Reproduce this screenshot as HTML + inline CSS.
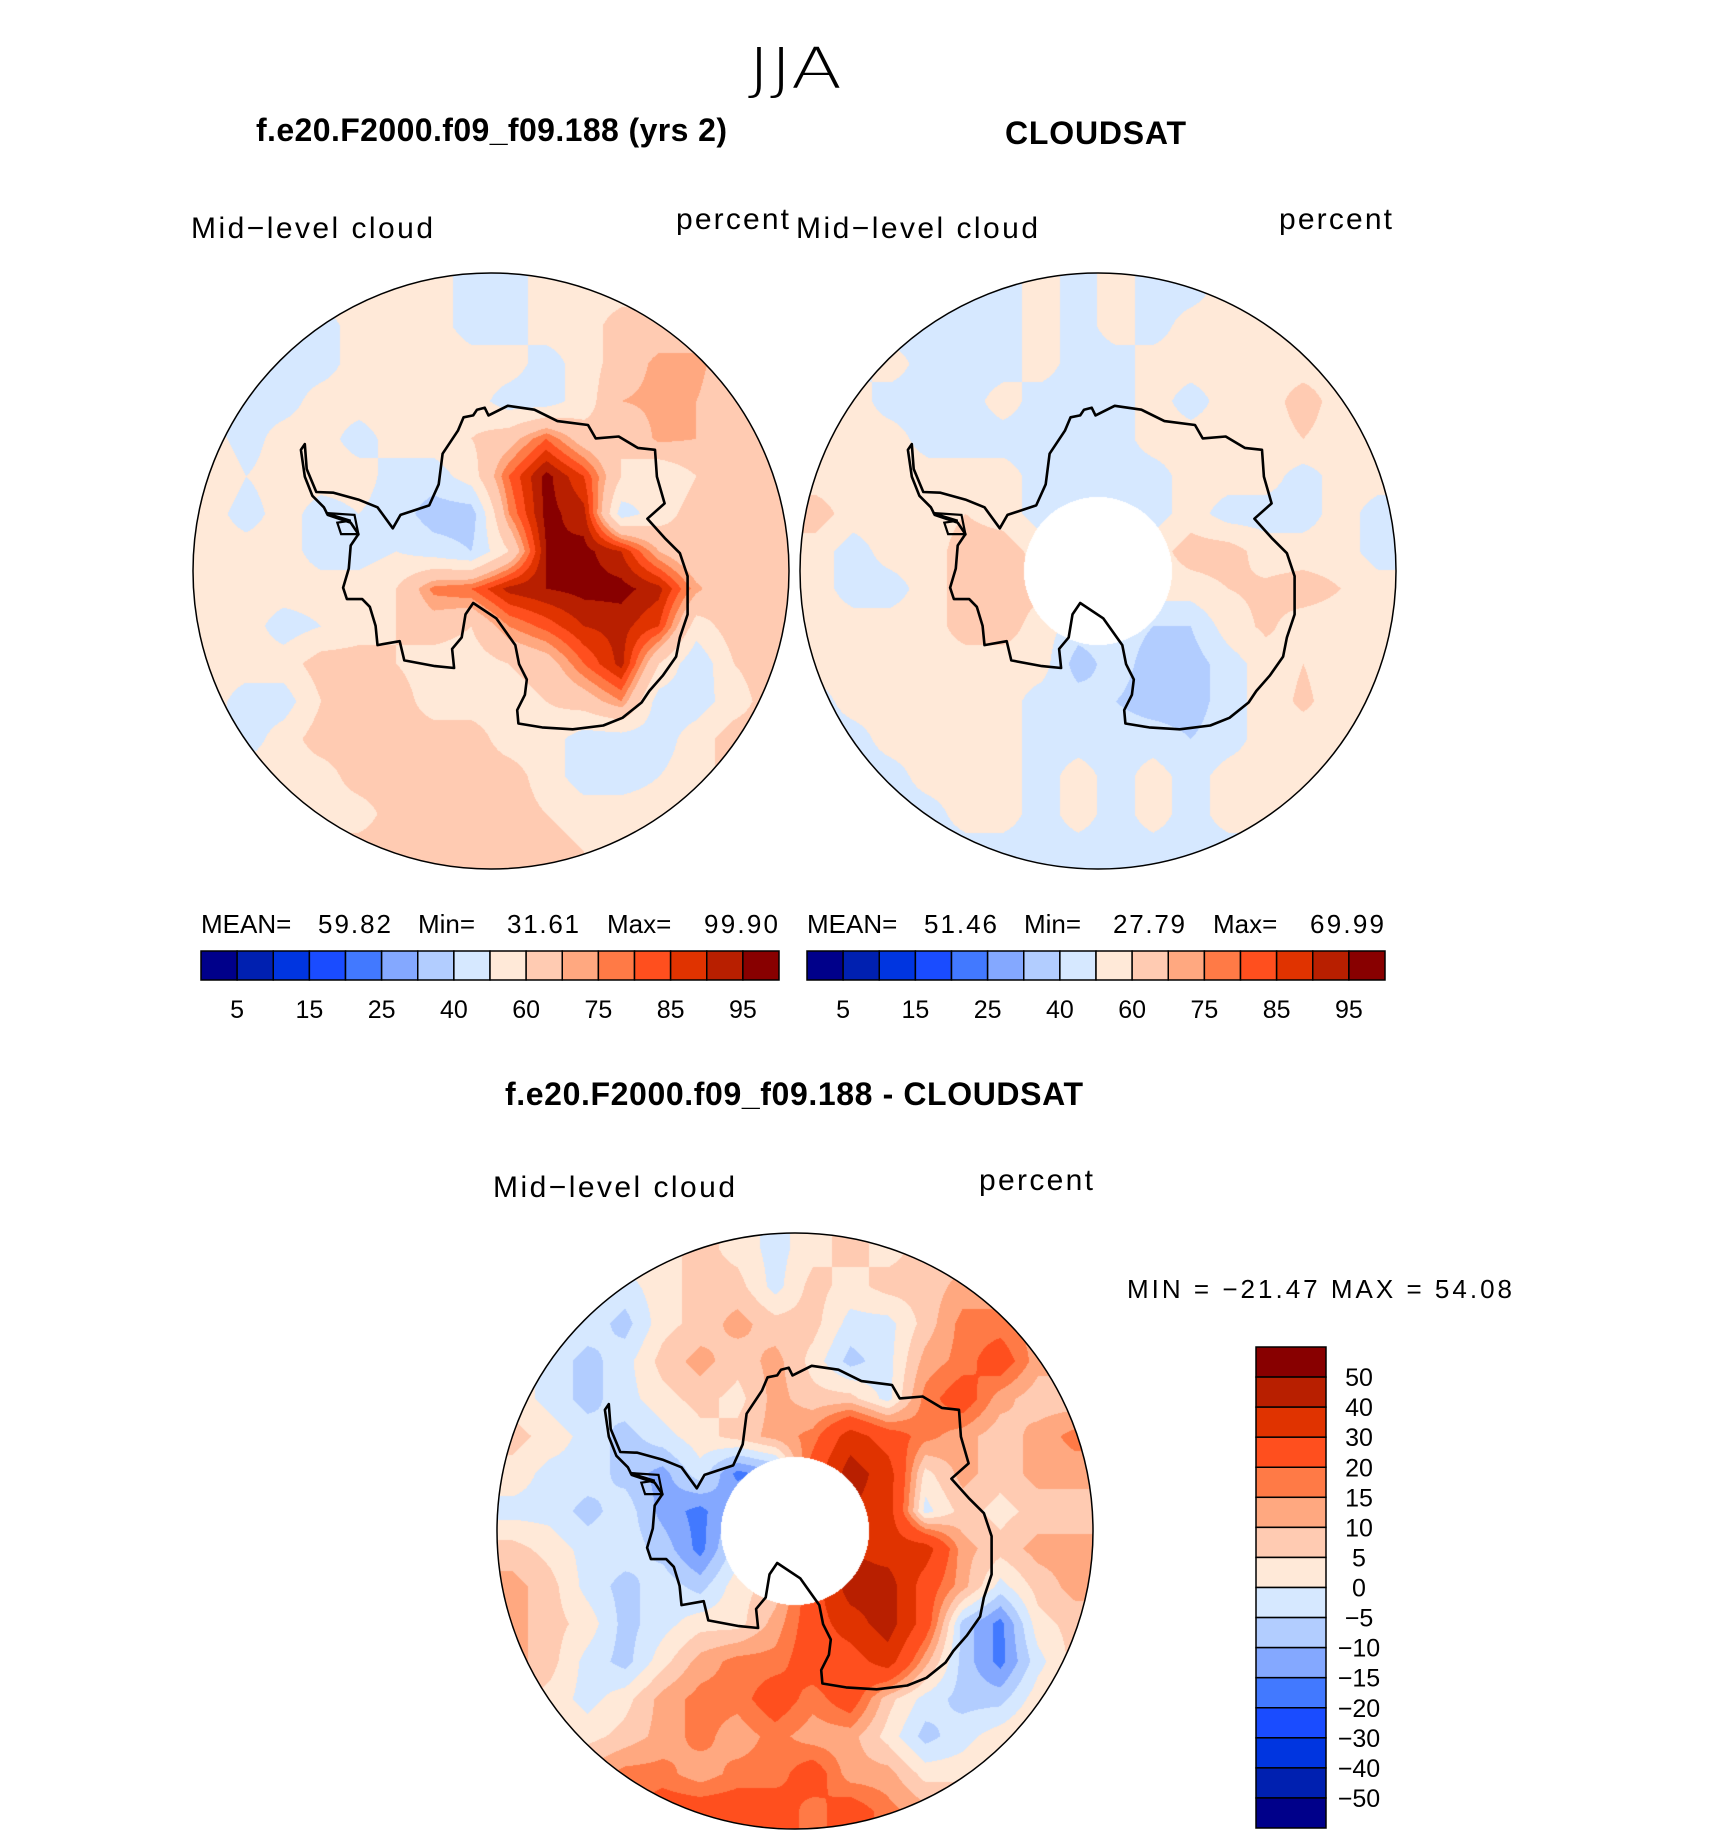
<!DOCTYPE html>
<html><head><meta charset="utf-8">
<style>
html,body{margin:0;padding:0;background:#fff;}
#wrap{position:relative;width:1710px;height:1839px;overflow:hidden;}
canvas,svg{position:absolute;left:0;top:0;}
text{font-family:"Liberation Sans",sans-serif;fill:#000;}
</style></head>
<body>
<div id="wrap">
<canvas id="cv" width="1710" height="1839"></canvas>
<svg id="sv" width="1710" height="1839">
<text x="748" y="88" font-size="56" textLength="94" lengthAdjust="spacingAndGlyphs" style="font-family:'DejaVu Sans','Liberation Sans',sans-serif;font-weight:200">JJA</text>
<text x="256" y="141" font-size="32" font-weight="bold" textLength="471">f.e20.F2000.f09_f09.188 (yrs 2)</text>
<text x="1005" y="144" font-size="32" font-weight="bold" textLength="181">CLOUDSAT</text>
<text x="505" y="1105" font-size="32" font-weight="bold" textLength="578">f.e20.F2000.f09_f09.188 - CLOUDSAT</text>
<text x="191" y="238" font-size="30" textLength="242">Mid−level  cloud</text>
<text x="676" y="229" font-size="30" textLength="113">percent</text>
<text x="796" y="238" font-size="30" textLength="242">Mid−level  cloud</text>
<text x="1279" y="229" font-size="30" textLength="113">percent</text>
<text x="493" y="1197" font-size="30" textLength="242">Mid−level  cloud</text>
<text x="979" y="1190" font-size="30" textLength="114">percent</text>
<g>
<text x="201" y="933" font-size="26">MEAN=</text><text x="318" y="933" font-size="26" textLength="73">59.82</text>
<text x="418" y="933" font-size="26">Min=</text><text x="507" y="933" font-size="26" textLength="72">31.61</text>
<text x="607" y="933" font-size="26">Max=</text><text x="704" y="933" font-size="26" textLength="74">99.90</text>
</g>
<g>
<text x="807" y="933" font-size="26">MEAN=</text><text x="924" y="933" font-size="26" textLength="73">51.46</text>
<text x="1024" y="933" font-size="26">Min=</text><text x="1113" y="933" font-size="26" textLength="72">27.79</text>
<text x="1213" y="933" font-size="26">Max=</text><text x="1310" y="933" font-size="26" textLength="74">69.99</text>
</g>
<text x="1127" y="1298" font-size="26" textLength="385">MIN  =  −21.47  MAX  =    54.08</text>
<g id="overlay"></g>
</svg>
</div>
<script>
// ---- data ----
const absLevels = [5,10,15,20,25,30,40,50,60,70,75,80,85,90,95];
const absTickLabels = ["5","15","25","40","60","75","85","95"];
const diffLevels = [-50,-40,-30,-20,-15,-10,-5,0,5,10,15,20,30,40,50];
const diffTickLabels = ["50","40","30","20","15","10","5","0","−5","−10","−15","−20","−30","−40","−50"];
const palette = ["#00008a","#0020b0","#0035e0","#1a4cff","#4279ff","#84a8ff","#b2cdff","#d6e8ff","#ffe9d8","#ffcbb2","#ffa880","#ff7a46","#ff4f1e","#e03300","#b81f00","#880000"];

const modelField = [
[55,55,55,55,55,55,55,45,45,55,55,55,55,55,55,55],
[45,45,45,45,55,55,55,45,45,55,55,65,65,65,65,65],
[45,45,45,45,55,55,58,55,55,45,55,65,72,72,65,65],
[45,45,45,55,55,55,55,55,45,45,55,70,72,70,65,65],
[55,45,55,55,45,55,55,60,66,80,65,60,72,70,65,65],
[60,50,55,55,55,45,45,55,80,97,85,60,50,60,65,65],
[55,45,55,45,50,45,35,35,75,97,92,45,55,65,65,65],
[55,55,55,45,45,50,45,40,60,95,97,90,70,60,65,65],
[55,55,55,55,55,60,77,80,92,95,97,97,92,72,60,65],
[55,55,45,50,55,60,65,60,75,82,90,92,85,55,65,65],
[55,55,55,65,65,60,55,55,60,65,80,92,60,42,60,65],
[55,45,45,60,65,65,55,55,55,60,65,75,45,45,55,65],
[55,45,55,65,65,65,65,65,55,55,45,45,45,55,65,65],
[55,55,55,55,65,65,65,65,65,55,45,45,50,55,65,65],
[55,55,55,55,55,65,65,65,65,60,55,55,55,65,65,65],
[65,65,65,65,65,65,65,65,65,65,60,55,65,65,65,65]];

const obsField = [
[45,45,45,45,45,45,55,45,55,45,45,55,55,45,45,45],
[45,45,45,45,45,45,55,45,55,45,55,55,55,55,45,45],
[45,45,55,45,45,45,55,45,45,55,55,55,55,55,55,45],
[45,55,45,45,45,55,45,45,45,55,45,55,55,65,55,55],
[55,55,55,45,45,45,45,45,45,55,55,55,55,60,55,55],
[55,55,55,55,55,55,45,45,45,45,55,55,55,45,55,55],
[65,55,55,55,60,55,45,45,45,45,55,45,45,45,55,45],
[55,45,55,55,65,66,55,55,55,55,65,65,55,55,55,45],
[55,45,45,55,65,66,62,55,55,55,55,60,62,65,60,55],
[55,55,55,55,65,65,55,45,45,40,40,55,62,55,55,55],
[55,55,55,55,55,55,55,35,45,35,35,45,55,60,55,55],
[45,55,55,55,55,55,45,45,40,35,35,45,55,62,55,55],
[45,45,55,55,55,55,45,45,45,45,40,45,55,55,55,55],
[45,45,45,55,55,55,45,55,45,55,45,55,55,55,55,55],
[45,45,45,45,55,55,45,55,45,55,45,55,55,55,45,45],
[45,45,45,45,45,45,45,45,45,45,45,45,45,45,45,45]];

const diffField = [
[3,3,3,3,3,7,3,-2,3,7,3,7,7,7,7,7],
[3,3,3,-2,3,7,7,-2,7,3,7,7,12,12,7,7],
[3,3,-2,-7,3,7,12,7,7,-2,-2,7,17,17,12,12],
[3,-2,-7,-2,7,12,7,12,3,-7,-2,12,17,25,12,12],
[3,-2,-7,-2,3,7,3,12,7,7,-2,17,25,12,7,7],
[7,3,-2,-7,-2,3,7,12,17,35,25,17,12,7,12,17],
[3,-2,-2,-7,-12,-2,-17,-12,25,45,35,3,12,7,12,12],
[-2,-2,-7,-2,-12,-17,-7,3,25,40,35,-2,7,3,7,7],
[7,3,-2,-2,-7,-17,-2,3,25,40,35,35,12,7,12,12],
[12,7,-2,-7,-2,-7,3,7,25,45,45,25,12,-2,7,12],
[12,7,3,-7,-2,3,3,12,25,35,45,25,-7,-17,3,7],
[12,7,-2,-7,3,12,17,17,25,25,35,12,-7,-17,-2,7],
[7,3,-2,3,12,17,17,25,17,25,7,-2,-7,-7,3,7],
[7,7,3,7,12,17,12,17,12,12,3,-7,-2,3,7,12],
[12,12,12,17,17,12,17,17,25,12,12,3,3,7,12,12],
[12,17,17,17,25,25,25,25,17,25,17,12,12,12,12,12]];

// coastline in reference frame units (circle centre 786.5, radius 778.5)
const coast = [[300,455],[305,520],[330,580],[375,582],[440,600],[490,620],[530,675],[550,640],[625,615],[650,560],[660,480],[700,420],[715,385],[740,380],[750,365],[770,360],[780,380],[830,355],[900,365],[960,395],[1040,405],[1060,440],[1120,435],[1170,465],[1215,470],[1220,540],[1240,610],[1195,650],[1240,700],[1280,740],[1300,800],[1300,900],[1280,960],[1270,1010],[1235,1060],[1200,1100],[1180,1130],[1130,1170],[1080,1190],[1000,1200],[920,1195],[858,1185],[855,1150],[875,1110],[880,1070],[860,1030],[850,980],[800,910],[740,870],[720,900],[710,960],[685,990],[690,1040],[640,1035],[560,1020],[548,970],[490,980],[485,930],[470,880],[450,860],[410,860],[400,830],[415,780],[420,720],[440,690],[420,660],[360,640],[350,620],[320,590],[300,540],[290,470]];
const coastLoop = [[355,635],[430,640],[440,690],[395,690],[385,660],[420,655]];

// ---- layout ----
const maps = [
 {name:"model-map", field:modelField, levels:absLevels, cx:491, cy:571, r:298, hole:0},
 {name:"obs-map", field:obsField, levels:absLevels, cx:1098, cy:571, r:298, hole:74},
 {name:"diff-map", field:diffField, levels:diffLevels, cx:795, cy:1531, r:298, hole:74}
];
const RC = 786.5, RR = 778.5, G0 = 49, GS = 98;

function colorIndex(v, levels){ let k=0; while(k<levels.length && v>=levels[k]) k++; return k; }
function hexToRgb(h){ return [parseInt(h.substr(1,2),16),parseInt(h.substr(3,2),16),parseInt(h.substr(5,2),16)]; }
const rgb = palette.map(hexToRgb);
function sample(field, gx, gy){
  const n = field.length;
  gx=Math.max(0,Math.min(n-1.0001,gx)); gy=Math.max(0,Math.min(n-1.0001,gy));
  const i=Math.floor(gy), j=Math.floor(gx), fy=gy-i, fx=gx-j;
  const a=field[i][j], b=field[i][j+1], c=field[i+1][j], d=field[i+1][j+1];
  return a*(1-fx)*(1-fy)+b*fx*(1-fy)+c*(1-fx)*fy+d*fx*fy;
}
const cv=document.getElementById('cv'), ctx=cv.getContext('2d');
const img=ctx.createImageData(1710,1839);
for(let p=0;p<img.data.length;p+=4){img.data[p]=255;img.data[p+1]=255;img.data[p+2]=255;img.data[p+3]=255;}
maps.forEach(m=>{
  for(let y=Math.floor(m.cy-m.r);y<=m.cy+m.r;y++){
    if(y<0||y>=1839) continue;
    for(let x=Math.floor(m.cx-m.r);x<=m.cx+m.r;x++){
      const dx=x+0.5-m.cx, dy=y+0.5-m.cy, d=Math.hypot(dx,dy);
      if(d>m.r || d<m.hole) continue;
      const zx=RC+dx/m.r*RR, zy=RC+dy/m.r*RR;
      const v=sample(m.field,(zx-G0)/GS,(zy-G0)/GS);
      const c=rgb[colorIndex(v,m.levels)];
      const o=(y*1710+x)*4; img.data[o]=c[0];img.data[o+1]=c[1];img.data[o+2]=c[2];
    }
  }
});
ctx.putImageData(img,0,0);

// ---- overlay ----
const NS="http://www.w3.org/2000/svg";
const ov=document.getElementById('overlay');
function mk(tag,attrs){const e=document.createElementNS(NS,tag);for(const k in attrs)e.setAttribute(k,attrs[k]);ov.appendChild(e);return e;}
maps.forEach(m=>{
  const tr=p=>[(m.cx+(p[0]-RC)/RR*m.r).toFixed(1),(m.cy+(p[1]-RC)/RR*m.r).toFixed(1)].join(',');
  const cp=mk('polygon',{points:coast.map(tr).join(' '),fill:'none',stroke:'#000','stroke-width':2.6,'stroke-linejoin':'round'});
  
  
  const lp=mk('polygon',{points:coastLoop.map(tr).join(' '),fill:'none',stroke:'#000','stroke-width':2.2});
  
  
  const ci=mk('circle',{cx:m.cx,cy:m.cy,r:m.r,fill:'none',stroke:'#000','stroke-width':1.5});
  
  
});
// horizontal colorbars
[[201,'model-colorbar'],[807,'obs-colorbar']].forEach(([x0,nm])=>{
  const w=578/palette.length;
  palette.forEach((c,k)=>{
    const r=mk('rect',{x:x0+k*w,y:951,width:w,height:29,fill:c,stroke:'#000','stroke-width':1.5});
    
    
  });
  absTickLabels.forEach((t,k)=>{
    const tx=mk('text',{x:x0+(2*k+1)*w,y:1018,'font-size':25,'text-anchor':'middle'});
    tx.textContent=t;
    
    
  });
});
// vertical colorbar
{
  const y0=1347, h=481/palette.length;
  palette.slice().reverse().forEach((c,k)=>{
    const r=mk('rect',{x:1256,y:y0+k*h,width:70,height:h,fill:c,stroke:'#000','stroke-width':1.5});
    
    
  });
  diffTickLabels.forEach((t,k)=>{
    const tx=mk('text',{x:1359,y:y0+(k+1)*h+9,'font-size':25,'text-anchor':'middle'});
    tx.textContent=t;
    
    
  });
}
</script>
</body></html>
